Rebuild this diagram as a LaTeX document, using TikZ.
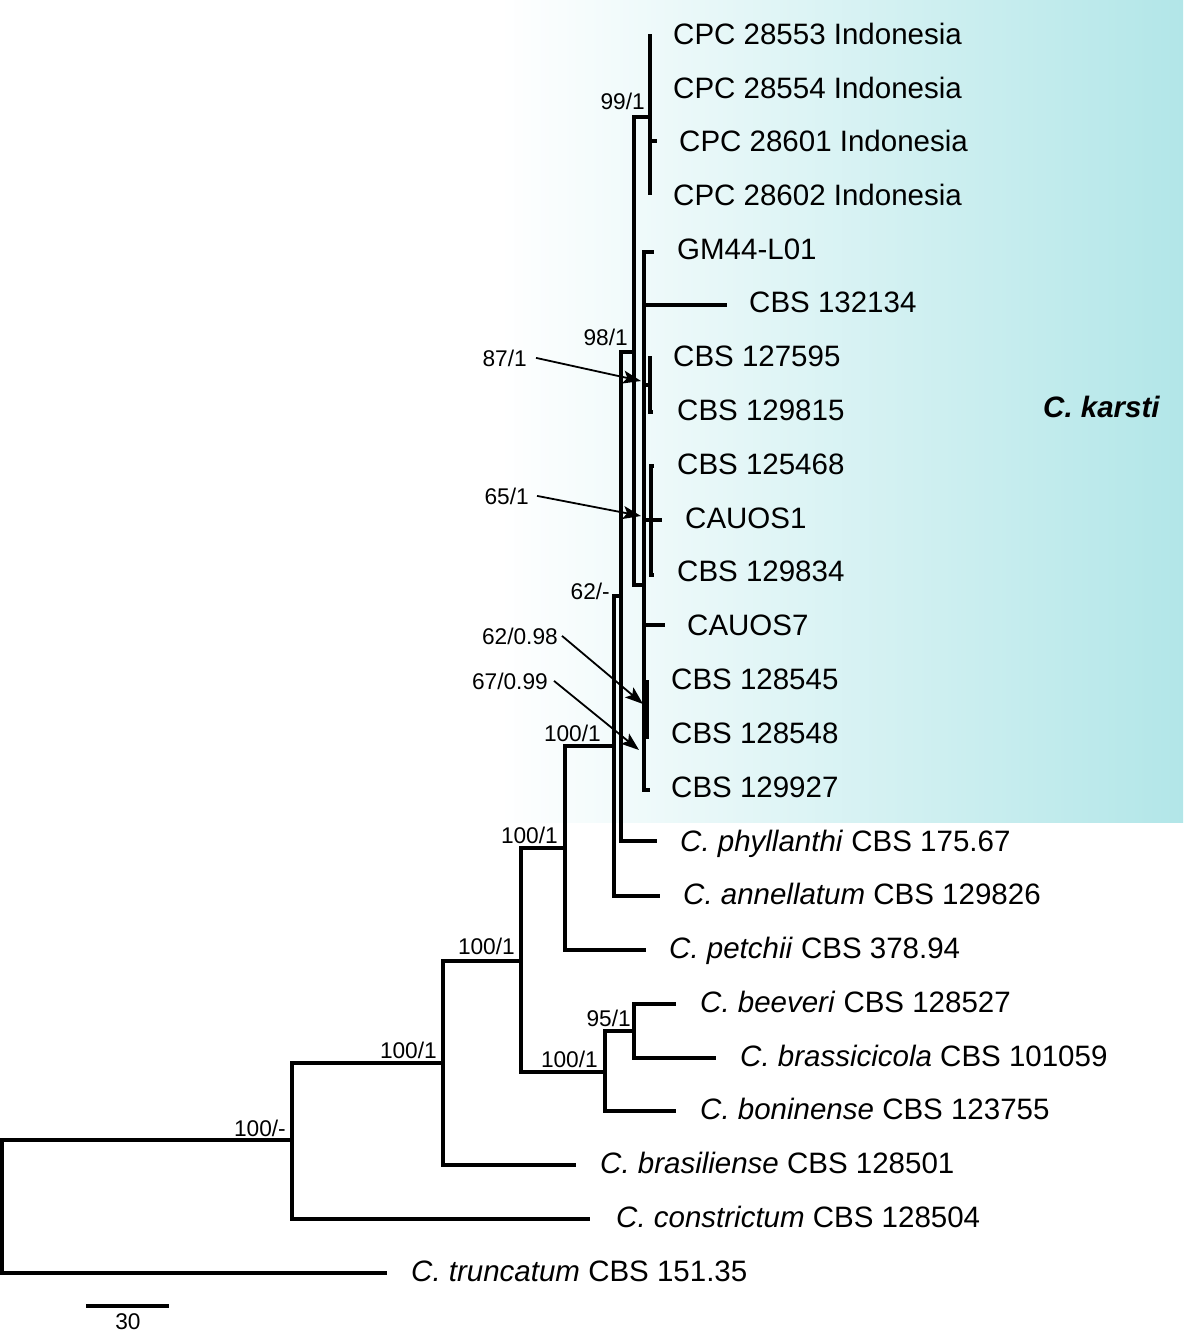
\documentclass[tikz,border=0pt]{standalone}
\usepackage{fontspec}
\setmainfont{Liberation Sans}
\usetikzlibrary{arrows.meta}
\definecolor{cladebg}{RGB}{178,230,232}
\begin{document}
\begin{tikzpicture}[x=1pt,y=-1pt,
  br/.style={line width=3.3pt},
  tip/.style={anchor=base west,inner sep=0pt,font=\fontsize{29.5}{30}\selectfont},
  sup/.style={anchor=base east,inner sep=0pt,font=\fontsize{22.7}{24}\selectfont},
  arr/.style={line width=1.8pt,-{Stealth[length=18pt,width=13pt,inset=4pt]}}]
\useasboundingbox (0,0) rectangle (1183,1332);
\shade[left color=white,right color=cladebg] (500,0) rectangle (1183,822);

% internal nodes
\coordinate (r) at (2,1207);
\coordinate (n1) at (292,1140);
\coordinate (n2) at (443,1063);
\coordinate (n3) at (521,961);
\coordinate (n4) at (565,848);
\coordinate (n5) at (605,1072);
\coordinate (n6) at (634,1031);
\coordinate (n7) at (614,746);
\coordinate (n8) at (621,596);
\coordinate (n9) at (634,352);
\coordinate (n10) at (650,117);
\coordinate (nA) at (644,585);
\coordinate (n87) at (650,385);
\coordinate (n65) at (651,520);
\coordinate (n98) at (647,710);
% tips
\coordinate (tC1) at (650,34);
\coordinate (tC2) at (650,88);
\coordinate (tC3) at (657,141);
\coordinate (tC4) at (650,195);
\coordinate (tGM) at (654,252);
\coordinate (t132134) at (727,305);
\coordinate (t127595) at (652,358);
\coordinate (t129815) at (653,412);
\coordinate (t125468) at (654,466);
\coordinate (tCAU1) at (662,520);
\coordinate (t129834) at (654,575);
\coordinate (tCAU7) at (665,625);
\coordinate (t128545) at (649,682);
\coordinate (t128548) at (649,737);
\coordinate (t129927) at (650,790);
\coordinate (tPhy) at (657,841);
\coordinate (tAnn) at (660,896);
\coordinate (tPet) at (646,950);
\coordinate (tBee) at (676,1004);
\coordinate (tBrass) at (716,1058);
\coordinate (tBon) at (676,1111);
\coordinate (tBras) at (576,1165);
\coordinate (tConst) at (590,1219);
\coordinate (tTrunc) at (387,1273);

% branches
\draw[br] (r) |- (n1); \draw[br] (r) |- (tTrunc);
\draw[br] (n1) |- (n2); \draw[br] (n1) |- (tConst);
\draw[br] (n2) |- (n3); \draw[br] (n2) |- (tBras);
\draw[br] (n3) |- (n4); \draw[br] (n3) |- (n5);
\draw[br] (n5) |- (n6); \draw[br] (n5) |- (tBon);
\draw[br] (n6) |- (tBee); \draw[br] (n6) |- (tBrass);
\draw[br] (n4) |- (n7); \draw[br] (n4) |- (tPet);
\draw[br] (n7) |- (n8); \draw[br] (n7) |- (tAnn);
\draw[br] (n8) |- (n9); \draw[br] (n8) |- (tPhy);
\draw[br] (n9) |- (n10); \draw[br] (n9) |- (nA);
\draw[br] (n10) |- (tC1); \draw[br] (n10) |- (tC2);
\draw[br] (n10) |- (tC3); \draw[br] (n10) |- (tC4);
\draw[br] (nA) |- (tGM); \draw[br] (nA) |- (t132134);
\draw[br] (nA) |- (n87); \draw[br] (nA) |- (n65);
\draw[br] (nA) |- (tCAU7); \draw[br] (nA) |- (n98);
\draw[br] (nA) |- (t129927);
\draw[br] (n87) |- (t127595); \draw[br] (n87) |- (t129815);
\draw[br] (n65) |- (t125468); \draw[br] (n65) |- (tCAU1);
\draw[br] (n65) |- (t129834);
\draw[br] (n98) |- (t128545); \draw[br] (n98) |- (t128548);
\coordinate (thkA) at (645,703);
\coordinate (thkB) at (645,737);
\draw[line width=6pt] (thkA) -- (thkB);

% tip labels
\node[tip] (lC1) at (673,44.5) {CPC 28553 Indonesia};
\node[tip] (lC2) at (673,98.5) {CPC 28554 Indonesia};
\node[tip] (lC3) at (679,151.5) {CPC 28601 Indonesia};
\node[tip] (lC4) at (673,205.5) {CPC 28602 Indonesia};
\node[tip] (lGM) at (677,259.5) {GM44-L01};
\node[tip] (l132134) at (749,312.5) {CBS 132134};
\node[tip] (l127595) at (673,366.5) {CBS 127595};
\node[tip] (l129815) at (677,420.5) {CBS 129815};
\node[tip] (l125468) at (677,474.5) {CBS 125468};
\node[tip] (lCAU1) at (685,528.5) {CAUOS1};
\node[tip] (l129834) at (677,581.5) {CBS 129834};
\node[tip] (lCAU7) at (687,635.5) {CAUOS7};
\node[tip] (l128545) at (671,689.5) {CBS 128545};
\node[tip] (l128548) at (671,743.5) {CBS 128548};
\node[tip] (l129927) at (671,797.5) {CBS 129927};
\node[tip] (lPhy) at (680,851.5) {\textit{C. phyllanthi} CBS 175.67};
\node[tip] (lAnn) at (683,904.5) {\textit{C. annellatum} CBS 129826};
\node[tip] (lPet) at (669,958.5) {\textit{C. petchii} CBS 378.94};
\node[tip] (lBee) at (700,1012.5) {\textit{C. beeveri} CBS 128527};
\node[tip] (lBrass) at (740,1066.5) {\textit{C. brassicicola} CBS 101059};
\node[tip] (lBon) at (700,1119.5) {\textit{C. boninense} CBS 123755};
\node[tip] (lBras) at (600,1173.5) {\textit{C. brasiliense} CBS 128501};
\node[tip] (lConst) at (616,1227.5) {\textit{C. constrictum} CBS 128504};
\node[tip] (lTrunc) at (411,1281.5) {\textit{C. truncatum} CBS 151.35};
\node[tip] (karsti) at (1043,417.5) {\textbf{\textit{C. karsti}}};

% support values
\node[sup] (s99) at (645,110) {99/1};
\node[sup] (s98) at (628,345) {98/1};
\node[sup] (s87) at (527,366) {87/1};
\node[sup] (s65) at (529,504) {65/1};
\node[sup] (s62) at (610,599) {62/-};
\node[sup] (s6298) at (558,644) {62/0.98};
\node[sup] (s6799) at (548,689) {67/0.99};
\node[sup] (s100a) at (601,741) {100/1};
\node[sup] (s100b) at (558,843) {100/1};
\node[sup] (s100c) at (515,954) {100/1};
\node[sup] (s95) at (631,1026) {95/1};
\node[sup] (s100d) at (598,1067) {100/1};
\node[sup] (s100e) at (437,1058) {100/1};
\node[sup] (s100f) at (286,1136) {100/-};

% arrows
\coordinate (a87) at (641,381);
\coordinate (a65) at (641,516);
\coordinate (a6298) at (643,704);
\coordinate (a6799) at (639,750);
\draw[arr] ([xshift=9pt]s87.east) -- (a87);
\draw[arr] ([xshift=8pt]s65.east) -- (a65);
\draw[arr] ([xshift=4pt]s6298.east) -- (a6298);
\draw[arr] ([xshift=6pt]s6799.east) -- (a6799);

% scale bar
\coordinate (sbL) at (86,1306);
\coordinate (sbR) at (169,1306);
\draw[br] (sbL) -- (sbR);
\node[sup,anchor=base] (sbT) at (128,1329) {30};
\end{tikzpicture}
\end{document}
